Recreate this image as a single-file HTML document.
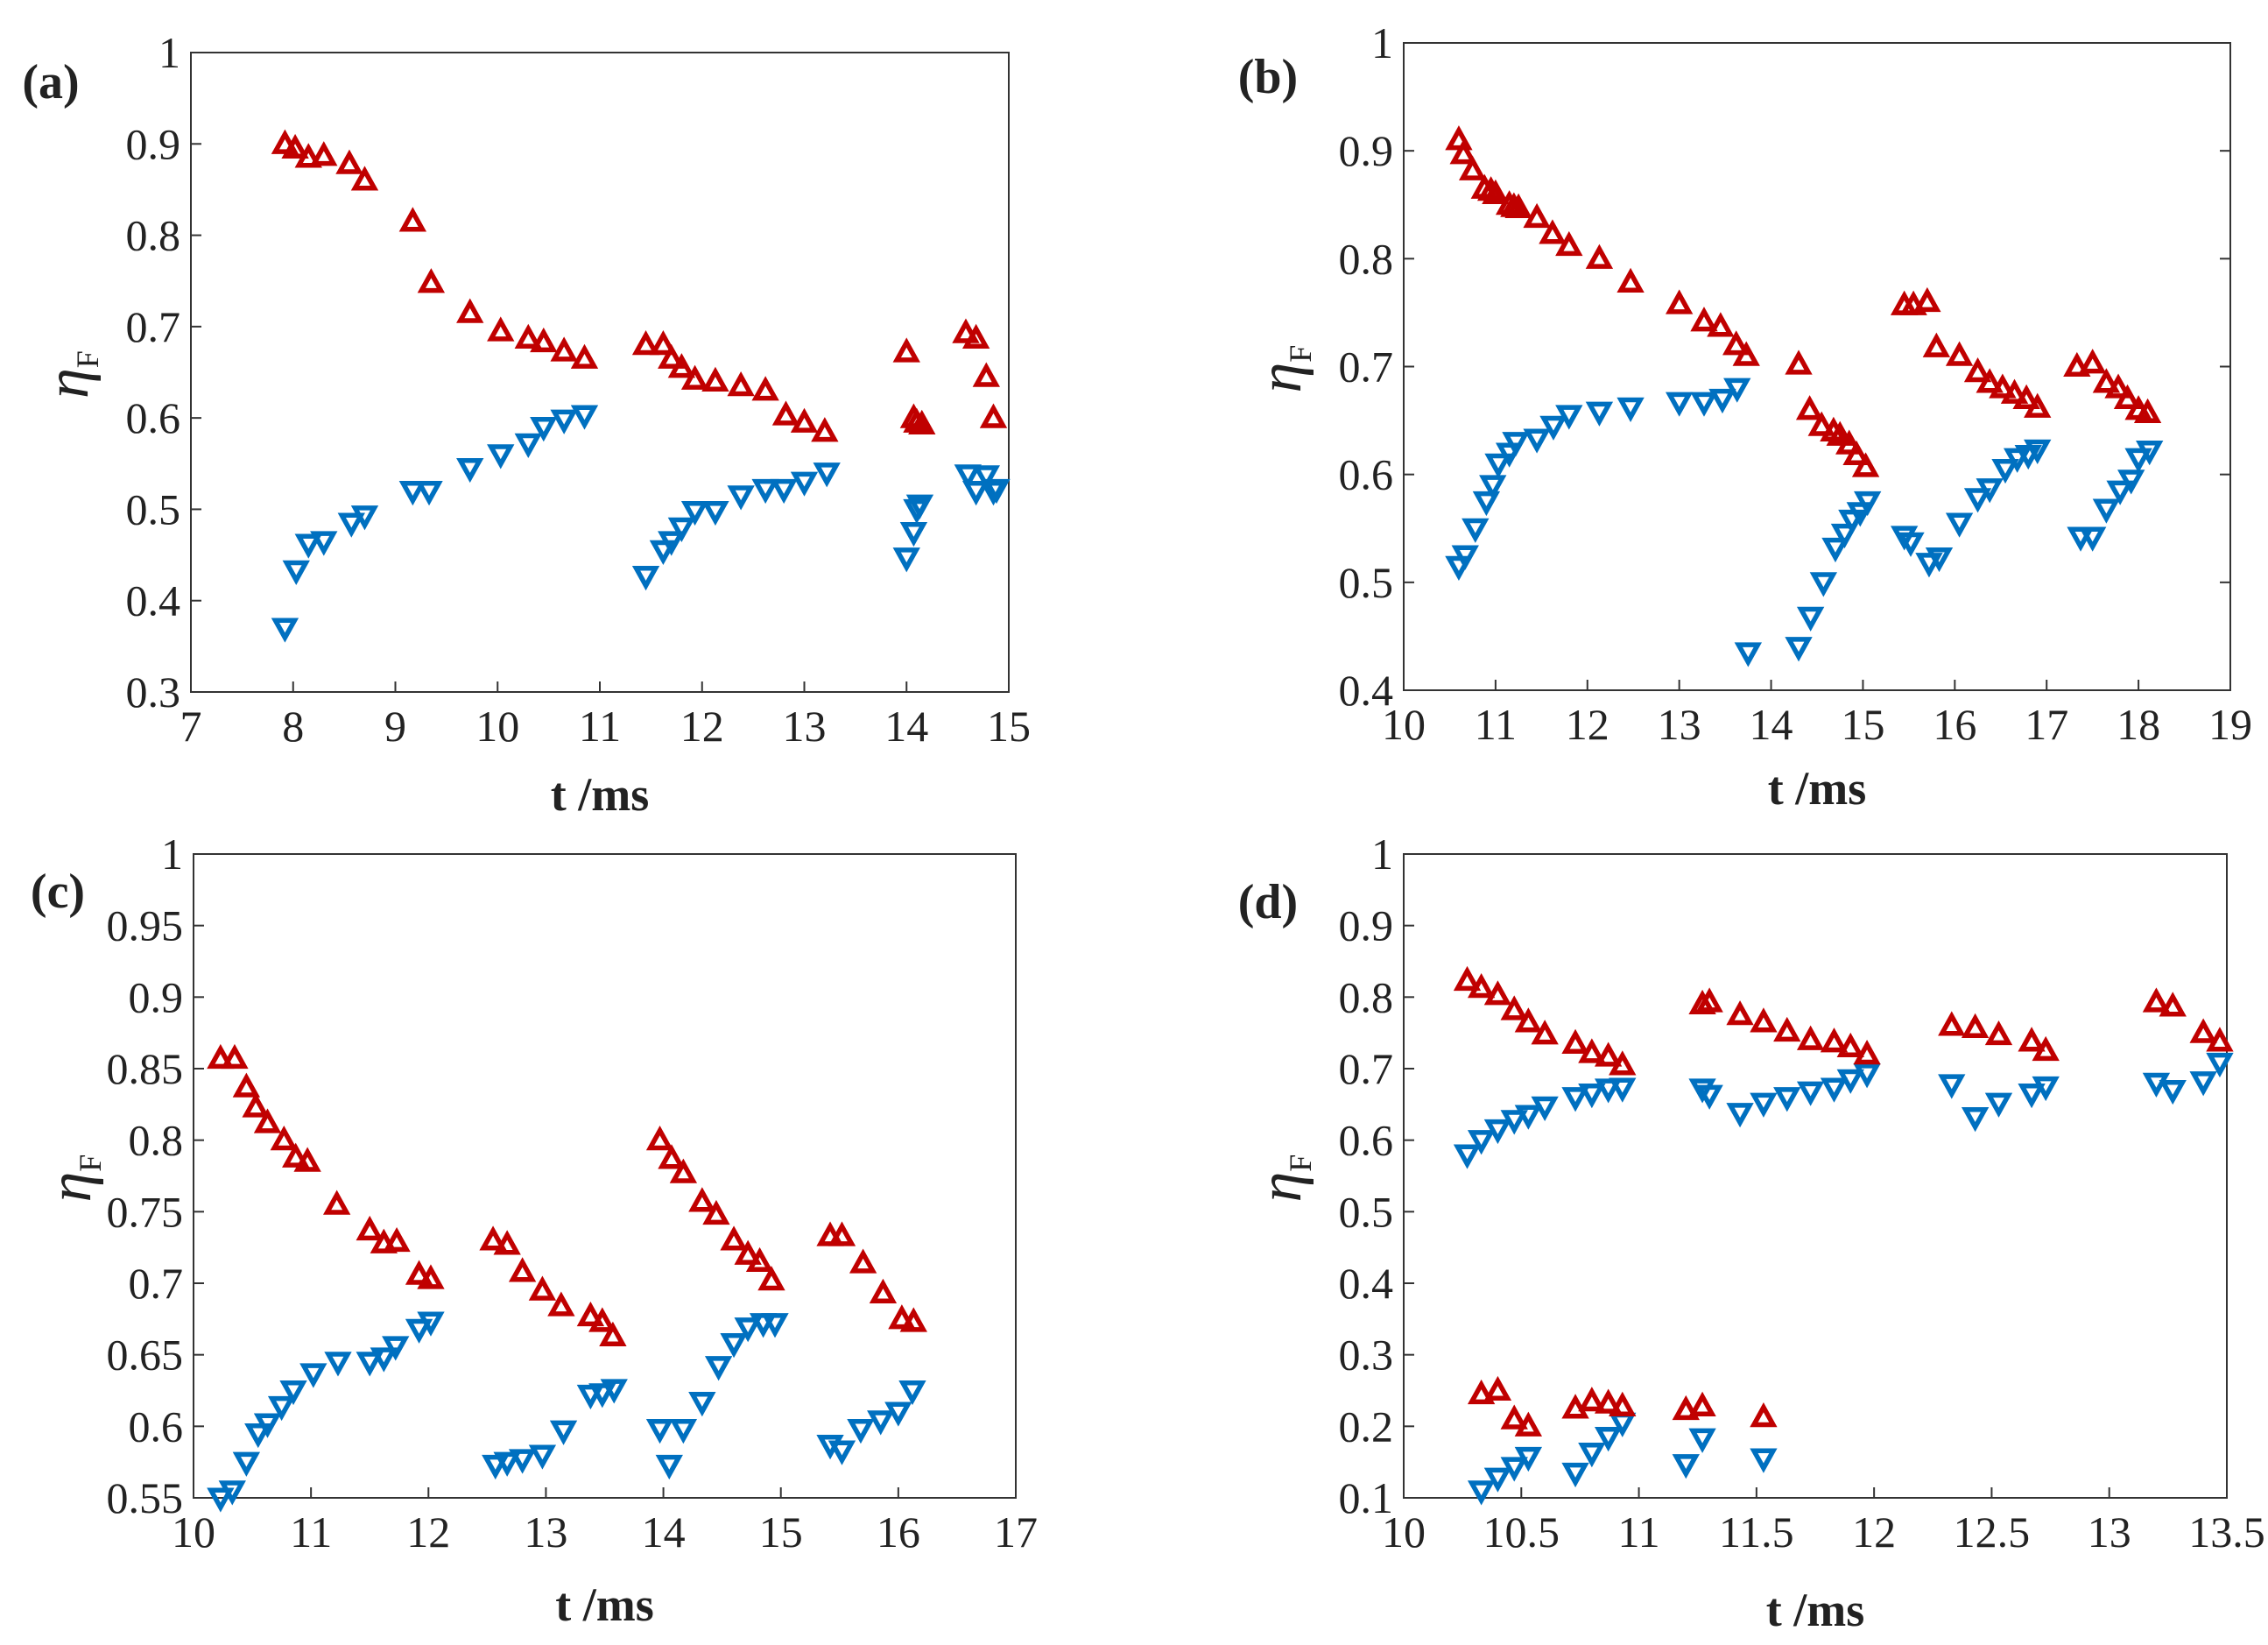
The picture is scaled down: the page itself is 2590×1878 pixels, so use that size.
<!DOCTYPE html>
<html><head><meta charset="utf-8"><style>
html,body{margin:0;padding:0;background:#fff;}
svg{display:block;}
text{font-family:"Liberation Serif",serif;fill:#222;}
</style></head><body>
<svg id="fig" width="2590" height="1878" viewBox="0 0 2590 1878" xmlns="http://www.w3.org/2000/svg"></svg>
<script>
// ---- data ----
const aRedT=[7.92,8.02,8.15,8.3,8.55,8.7,9.17,9.35,9.73,10.03,10.3,10.45,10.65,10.85,11.45,11.62,11.7,11.8,11.93,12.13,12.38,12.62,12.82,13.0,13.2,14.0,14.07,14.1,14.15,14.58,14.68,14.78,14.85];
const aRedV=[0.90,0.895,0.885,0.887,0.878,0.86,0.815,0.748,0.715,0.695,0.687,0.683,0.673,0.665,0.68,0.68,0.665,0.655,0.642,0.64,0.635,0.63,0.603,0.595,0.585,0.672,0.6,0.595,0.593,0.693,0.687,0.645,0.6];
const aBlueT=[7.92,8.03,8.15,8.3,8.57,8.7,9.17,9.33,9.73,10.03,10.3,10.45,10.65,10.85,11.45,11.62,11.7,11.8,11.93,12.13,12.38,12.62,12.8,13.0,13.22,14.0,14.07,14.1,14.13,14.6,14.68,14.78,14.85,14.88];
const aBlueV=[0.37,0.433,0.462,0.465,0.485,0.493,0.52,0.52,0.545,0.56,0.572,0.59,0.598,0.603,0.427,0.455,0.465,0.48,0.498,0.498,0.515,0.522,0.522,0.53,0.54,0.447,0.475,0.5,0.505,0.538,0.52,0.537,0.52,0.522];
const bRedT=[10.6,10.65,10.75,10.88,10.95,11.0,11.15,11.2,11.25,11.45,11.62,11.8,12.13,12.47,13.0,13.27,13.45,13.62,13.73,14.3,14.42,14.55,14.68,14.75,14.85,14.93,15.03,15.45,15.55,15.7,15.8,16.05,16.25,16.38,16.52,16.65,16.78,16.9,17.33,17.5,17.65,17.78,17.88,18.0,18.1];
const bRedV=[0.91,0.897,0.882,0.865,0.863,0.86,0.85,0.848,0.847,0.838,0.823,0.812,0.8,0.778,0.758,0.742,0.737,0.72,0.71,0.702,0.66,0.645,0.64,0.636,0.628,0.618,0.607,0.757,0.757,0.76,0.718,0.71,0.695,0.685,0.68,0.675,0.67,0.662,0.7,0.703,0.685,0.68,0.67,0.66,0.657];
const bBlueT=[10.6,10.67,10.78,10.9,10.97,11.03,11.15,11.22,11.45,11.63,11.8,12.13,12.47,13.0,13.27,13.47,13.63,13.75,14.3,14.43,14.57,14.7,14.8,14.88,14.97,15.05,15.45,15.52,15.72,15.83,16.05,16.25,16.38,16.55,16.68,16.8,16.9,17.37,17.5,17.65,17.8,17.92,18.0,18.12];
const bBlueV=[0.515,0.525,0.55,0.575,0.59,0.61,0.62,0.63,0.633,0.645,0.655,0.658,0.662,0.667,0.667,0.67,0.68,0.435,0.44,0.468,0.5,0.532,0.545,0.558,0.565,0.575,0.543,0.537,0.518,0.523,0.555,0.578,0.587,0.605,0.615,0.618,0.623,0.542,0.542,0.568,0.585,0.595,0.615,0.622];
const cRedT=[10.23,10.35,10.45,10.53,10.63,10.77,10.87,10.97,11.22,11.5,11.62,11.73,11.92,12.02,12.55,12.67,12.8,12.97,13.13,13.38,13.48,13.57,13.97,14.07,14.17,14.33,14.45,14.6,14.72,14.82,14.92,15.42,15.52,15.7,15.87,16.03,16.13];
const cRedV=[0.857,0.857,0.837,0.823,0.812,0.8,0.788,0.785,0.755,0.737,0.728,0.729,0.706,0.703,0.73,0.727,0.708,0.695,0.684,0.677,0.673,0.663,0.8,0.787,0.777,0.757,0.748,0.73,0.72,0.715,0.702,0.733,0.733,0.714,0.693,0.675,0.673];
const cBlueT=[10.23,10.33,10.45,10.55,10.63,10.75,10.85,11.02,11.23,11.5,11.62,11.72,11.92,12.02,12.57,12.67,12.8,12.97,13.15,13.38,13.48,13.58,13.97,14.05,14.17,14.33,14.47,14.6,14.72,14.85,14.95,15.42,15.52,15.68,15.85,16.0,16.12];
const cBlueV=[0.55,0.555,0.575,0.595,0.602,0.614,0.625,0.637,0.645,0.645,0.648,0.656,0.668,0.673,0.573,0.575,0.577,0.58,0.597,0.622,0.623,0.626,0.598,0.573,0.598,0.617,0.642,0.658,0.669,0.672,0.672,0.587,0.583,0.598,0.604,0.61,0.625];
const dRedT=[10.27,10.33,10.4,10.47,10.53,10.6,10.73,10.8,10.87,10.93,11.27,11.3,11.43,11.53,11.63,11.73,11.83,11.9,11.97,12.33,12.43,12.53,12.67,12.73,13.2,13.27,13.4,13.47,10.33,10.4,10.47,10.53,10.73,10.8,10.87,10.93,11.2,11.27,11.53];
const dRedV=[0.823,0.813,0.803,0.782,0.765,0.748,0.735,0.722,0.717,0.705,0.79,0.793,0.775,0.765,0.752,0.74,0.737,0.73,0.72,0.76,0.757,0.747,0.738,0.725,0.793,0.787,0.75,0.738,0.245,0.25,0.21,0.2,0.225,0.235,0.232,0.228,0.223,0.228,0.213];
const dBlueT=[10.27,10.33,10.4,10.47,10.53,10.6,10.73,10.8,10.87,10.93,11.27,11.3,11.43,11.53,11.63,11.73,11.83,11.9,11.97,12.33,12.43,12.53,12.67,12.73,13.2,13.27,13.4,13.47,10.33,10.4,10.47,10.53,10.73,10.8,10.87,10.93,11.2,11.27,11.53];
const dBlueV=[0.58,0.6,0.615,0.628,0.635,0.647,0.66,0.665,0.672,0.673,0.672,0.663,0.638,0.652,0.66,0.668,0.673,0.685,0.693,0.678,0.632,0.652,0.665,0.675,0.68,0.67,0.682,0.708,0.11,0.128,0.143,0.157,0.135,0.163,0.185,0.205,0.147,0.183,0.155];
const aXTicks=[7,8,9,10,11,12,13,14,15];
const aYTicks=[0.3,0.4,0.5,0.6,0.7,0.8,0.9,1];
const bXTicks=[10,11,12,13,14,15,16,17,18,19];
const bYTicks=[0.4,0.5,0.6,0.7,0.8,0.9,1];
const cXTicks=[10,11,12,13,14,15,16,17];
const cYTicks=[0.55,0.6,0.65,0.7,0.75,0.8,0.85,0.9,0.95,1];
const dXTicks=[10,10.5,11,11.5,12,12.5,13,13.5];
const dYTicks=[0.1,0.2,0.3,0.4,0.5,0.6,0.7,0.8,0.9,1];

const NS='http://www.w3.org/2000/svg';
const svg=document.getElementById('fig');
function mk(tag,attrs,parent){const e=document.createElementNS(NS,tag);for(const k in attrs)e.setAttribute(k,attrs[k]);(parent||svg).appendChild(e);return e;}
function fmt(v){return String(+v.toFixed(2));}

function panel(id,box,xr,yr,xt,yt,bt,bv,tt,tv,lab,labPos,xlabY,rightTicks){
  const g=mk('g',{});
  
  
  const [L,T,R,B]=box;
  const X=v=>L+(v-xr[0])/(xr[1]-xr[0])*(R-L);
  const Y=v=>B-(v-yr[0])/(yr[1]-yr[0])*(B-T);
  const frame=mk('rect',{x:L,y:T,width:R-L,height:B-T,fill:'none',stroke:'#333','stroke-width':2},g);
  
  
  xt.forEach(v=>{
    mk('line',{x1:X(v),x2:X(v),y1:B,y2:B-12,stroke:'#333','stroke-width':2},g);
    const t=mk('text',{x:X(v),y:B+56,'font-size':50,'text-anchor':'middle'},g);
    t.textContent=fmt(v);
    
    
  });
  yt.forEach(v=>{
    mk('line',{x1:L,x2:L+12,y1:Y(v),y2:Y(v),stroke:'#333','stroke-width':2},g);
    if(rightTicks) mk('line',{x1:R,x2:R-12,y1:Y(v),y2:Y(v),stroke:'#333','stroke-width':2},g);
    const t=mk('text',{x:L-12,y:Y(v)+17,'font-size':50,'text-anchor':'end'},g);
    t.textContent=fmt(v);
    
    
  });
  const s=11;
  bt.forEach((t,i)=>{
    const x=X(t),y=Y(bv[i]);
    const p=mk('polygon',{points:`${x-s},${y-s*0.8} ${x+s},${y-s*0.8} ${x},${y+s*1.0}`,fill:'none',stroke:'#0070c0','stroke-width':5.5},g);
    
    
  });
  tt.forEach((t,i)=>{
    const x=X(t),y=Y(tv[i]);
    const p=mk('polygon',{points:`${x-s},${y+s*0.8} ${x+s},${y+s*0.8} ${x},${y-s*1.0}`,fill:'none',stroke:'#c00000','stroke-width':5.5},g);
    
    
  });
  const pl=mk('text',{x:labPos[0],y:labPos[1],'font-size':56,'font-weight':'bold','text-anchor':'middle'},g);
  pl.textContent='('+lab+')';
  
  
  const xl=mk('text',{x:(L+R)/2,y:xlabY,'font-size':54,'font-weight':'bold','text-anchor':'middle'},g);
  xl.textContent='t /ms';
  
  
  const yl=mk('text',{x:0,y:0,'font-size':70,'font-style':'italic',transform:`translate(${L-118},${(T+B)/2+30}) rotate(-90)`},g);
  
  
  yl.textContent='η';
  const sub=mk('tspan',{'font-size':36,'font-style':'normal',dy:12},yl);
  sub.textContent='F';
}
panel('a',[218,60,1152,790],[7,15],[0.3,1],aXTicks,aYTicks,aBlueT,aBlueV,aRedT,aRedV,'a',[58,112],925,false);
panel('b',[1603,49,2547,788],[10,19],[0.4,1],bXTicks,bYTicks,bBlueT,bBlueV,bRedT,bRedV,'b',[1448,106],918,true);
panel('c',[221,975,1160,1710],[10,17],[0.55,1],cXTicks,cYTicks,cBlueT,cBlueV,cRedT,cRedV,'c',[66,1036],1850,false);
panel('d',[1603,975,2543,1710],[10,13.5],[0.1,1],dXTicks,dYTicks,dBlueT,dBlueV,dRedT,dRedV,'d',[1448,1048],1856,false);
</script>
</body></html>
